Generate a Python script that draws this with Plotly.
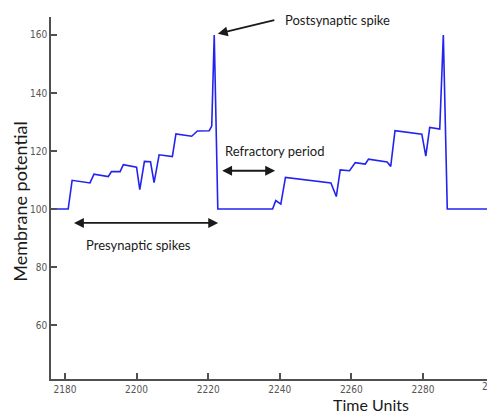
import plotly.graph_objects as go

# Membrane potential trace (time units, potential)
time_units = [2170, 2180.9, 2182.0, 2187.0, 2188.1, 2192.1, 2193.0, 2195.4, 2196.3,
              2200.0, 2200.9, 2202.2, 2203.9, 2204.9, 2206.3, 2210.0, 2211.0, 2215.4,
              2217.0, 2220.3, 2221.0, 2221.7, 2222.7,
              2238.0, 2238.9, 2240.3, 2241.6, 2254.3, 2255.8, 2256.9, 2259.5, 2261.1,
              2263.9, 2264.8, 2270.0, 2271.0, 2272.2, 2279.7, 2280.8, 2281.9, 2284.7,
              2285.7, 2286.8, 2300]
potential = [100, 100, 109.9, 109.0, 112.0, 111.2, 112.9, 112.9, 115.3,
             114.4, 106.7, 116.4, 116.3, 109.1, 118.7, 118.1, 125.9, 125.1,
             126.9, 127.0, 128.6, 160.0, 100,
             100, 102.9, 101.7, 110.9, 109.0, 104.3, 113.5, 113.2, 116.0,
             115.5, 117.2, 116.2, 114.7, 127.0, 125.8, 118.2, 128.1, 127.6,
             160.0, 100, 100]

x_ticks = [2180, 2200, 2220, 2240, 2260, 2280]
y_ticks = [60, 80, 100, 120, 140, 160]

AX = "#505050"
TXT = "#1a1a1a"
LFONT = "Lato, Open Sans, sans-serif"
TFONT = "Liberation Sans Narrow, DejaVu Sans Condensed, Arial, sans-serif"

fig = go.Figure()
fig.add_trace(go.Scatter(x=time_units, y=potential, mode="lines",
                         line=dict(color="#2323f0", width=1.6), hoverinfo="skip"))

ann = []
# arrows
ann.append(dict(x=2222.7, y=160.4, xref="x", yref="y", ax=58, ay=-14, axref="pixel", ayref="pixel",
                text="", showarrow=True, arrowhead=2, arrowsize=1.1, arrowwidth=1.8, arrowcolor=TXT))
ann.append(dict(x=2222.8, y=95.2, xref="x", yref="y", ax=2182.1, ay=95.2, axref="x", ayref="y",
                text="", showarrow=True, arrowhead=2, startarrowhead=2, arrowside="end+start",
                arrowsize=1.1, startarrowsize=1.1, arrowwidth=1.8, arrowcolor=TXT))
ann.append(dict(x=2238.7, y=113.2, xref="x", yref="y", ax=2223.5, ay=113.2, axref="x", ayref="y",
                text="", showarrow=True, arrowhead=2, startarrowhead=2, arrowside="end+start",
                arrowsize=1.1, startarrowsize=1.1, arrowwidth=1.8, arrowcolor=TXT))
# labels
ann.append(dict(x=2256.1, y=165.0, xref="x", yref="y", text="Postsynaptic spike", showarrow=False,
                font=dict(family=LFONT, size=13, color=TXT)))
ann.append(dict(x=2238.4, y=119.9, xref="x", yref="y", text="Refractory period", showarrow=False,
                font=dict(family=LFONT, size=13, color=TXT)))
ann.append(dict(x=2200.5, y=87.7, xref="x", yref="y", text="Presynaptic spikes", showarrow=False,
                font=dict(family=LFONT, size=13, color=TXT)))
# axis titles
ann.append(dict(x=-0.073, y=0.49, xref="paper", yref="paper", text="Membrane potential",
                textangle=-90, showarrow=False, xanchor="center", yanchor="middle",
                font=dict(family=LFONT, size=18, color=TXT)))
ann.append(dict(x=0.735, y=-0.0994, xref="paper", yref="paper", text="Time Units",
                showarrow=False, xanchor="center", yanchor="bottom", borderpad=0,
                font=dict(family=LFONT, size=16, color=TXT)))
# partially visible next tick label at the cropped right edge
ann.append(dict(x=1.0138, y=-0.0213, xref="paper", yref="paper", text="2300",
                showarrow=False, xanchor="center", yanchor="middle",
                font=dict(family=TFONT, size=10, color="#555555")))

fig.update_layout(
    width=487, height=415,
    margin=dict(l=51, r=0, t=17, b=36),
    paper_bgcolor="white", plot_bgcolor="white",
    showlegend=False,
    annotations=ann,
    xaxis=dict(range=[2176.1, 2297.9], tickvals=x_ticks, ticks="inside", ticklen=6,
               tickwidth=1.5, tickcolor=AX, showline=True, linecolor=AX, linewidth=1.5,
               showgrid=False, zeroline=False,
               tickfont=dict(family=TFONT, size=10, color="#555555")),
    yaxis=dict(range=[41.4, 166.2], tickvals=y_ticks, ticks="inside", ticklen=6,
               tickwidth=1.5, tickcolor=AX, showline=True, linecolor=AX, linewidth=1.5,
               showgrid=False, zeroline=False,
               tickfont=dict(family=TFONT, size=10, color="#555555")),
)

fig.write_html("out.html")
